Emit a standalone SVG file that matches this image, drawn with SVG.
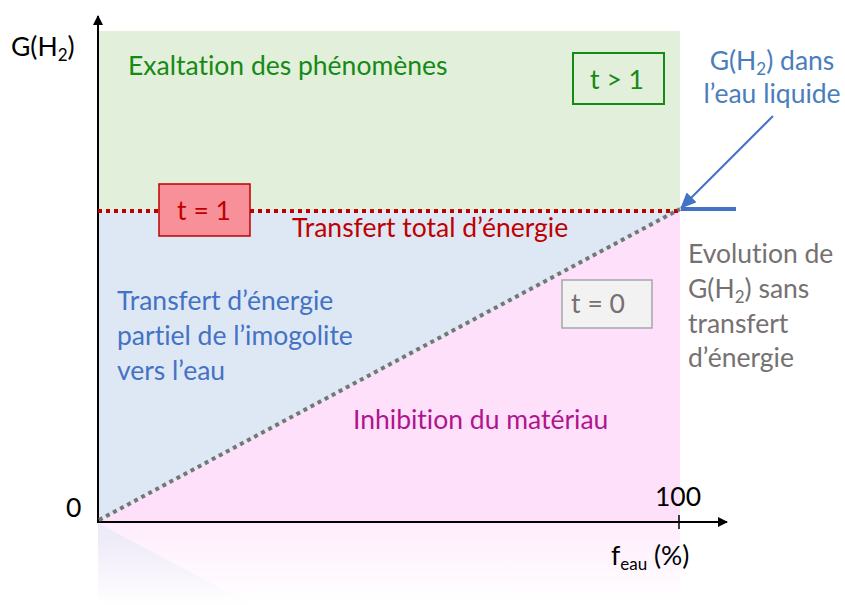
<svg xmlns="http://www.w3.org/2000/svg" width="845" height="605" viewBox="0 0 845 605">
<defs>
<style>
text{font-family:Lato,"Open Sans","Liberation Sans",sans-serif;font-size:26.5px;font-variant-ligatures:none;font-feature-settings:"liga" 0,"clig" 0}
.ax{stroke:#000;stroke-width:2;fill:none}
.lbl{fill:#000}
.sub{font-size:17px}
</style>
<marker id="ah" markerWidth="10" markerHeight="10" refX="9" refY="5" orient="auto" markerUnits="userSpaceOnUse"><path d="M0,0 L10,5 L0,10 Z" fill="#000"/></marker>
<marker id="bh" markerWidth="16" markerHeight="14" refX="15" refY="7" orient="auto" markerUnits="userSpaceOnUse"><path d="M0,0 L16,7 L0,14 Z" fill="#4472c4"/></marker>
<linearGradient id="refl" x1="0" y1="0" x2="0" y2="1"><stop offset="0" stop-color="#ffe0fb" stop-opacity="0.6"/><stop offset="1" stop-color="#ffe0fb" stop-opacity="0"/></linearGradient>
<linearGradient id="reflb" x1="0" y1="0" x2="0" y2="1"><stop offset="0" stop-color="#dde8f4" stop-opacity="0.6"/><stop offset="1" stop-color="#dde8f4" stop-opacity="0"/></linearGradient>
</defs>
<g id="regions">
<rect x="98" y="31" width="582" height="180" fill="#e2efda"/>
<polygon points="98,211 680,211 98,522" fill="#dde8f4"/>
<polygon points="98,522 680,211 680,522" fill="#ffe0fb"/>
<rect x="98" y="523" width="582" height="82" fill="url(#refl)"/>
<polygon points="98,523 252,605 98,605" fill="url(#reflb)"/>
</g>
<g id="connectors">
<line x1="98" y1="522" x2="98" y2="16" class="ax" marker-end="url(#ah)"/>
<line x1="97" y1="522" x2="727" y2="522" class="ax" marker-end="url(#ah)"/>
<line x1="679" y1="515" x2="679" y2="529" stroke="#000" stroke-width="1.5"/>
<line x1="98" y1="211" x2="680" y2="211" stroke="#c00000" stroke-width="4" stroke-dasharray="4,4"/>
<line x1="99" y1="520" x2="680" y2="209" stroke="#767676" stroke-width="4" stroke-dasharray="4,4"/>
<line x1="773" y1="116" x2="681" y2="208" stroke="#4472c4" stroke-width="2" marker-end="url(#bh)"/>
<line x1="681" y1="209" x2="736" y2="209" stroke="#4472c4" stroke-width="4"/>
</g>
<g id="axis-labels">
<text x="11" y="56" class="lbl">G(H<tspan class="sub" dy="5">2</tspan><tspan dy="-5">)</tspan></text>
<text x="66" y="517" class="lbl" font-size="25">0</text>
<text x="655" y="506" class="lbl" font-size="25">100</text>
<text x="611" y="565" class="lbl">f<tspan class="sub" dy="5">eau</tspan><tspan dy="-5"> (%)</tspan></text>
</g>
<g id="exaltation"><text x="128" y="75" fill="#158a15">Exaltation des phénomènes</text></g>
<g id="t-gt-1">
<rect x="573" y="53" width="91" height="51" fill="none" stroke="#158a15" stroke-width="2"/>
<text x="617" y="89" font-size="30" fill="#158a15" text-anchor="middle">t &gt; 1</text>
</g>
<g id="eau-liquide">
<text x="772" y="70" fill="#4a7ebb" text-anchor="middle">G(H<tspan class="sub" dy="5">2</tspan><tspan dy="-5">) dans</tspan></text>
<text x="772" y="103" fill="#4a7ebb" text-anchor="middle">l’eau liquide</text>
</g>
<g id="t-eq-1">
<rect x="159" y="184" width="91" height="52" fill="#f8909a" stroke="#c00000" stroke-width="1.5"/>
<text x="204" y="220" font-size="30" fill="#c00000" text-anchor="middle">t = 1</text>
</g>
<g id="transfert-total"><text x="292" y="237" fill="#c00000">Transfert total d’énergie</text></g>
<g id="transfert-partiel">
<text x="117" y="310" fill="#4472c4">Transfert d’énergie</text>
<text x="117" y="345" fill="#4472c4">partiel de l’imogolite</text>
<text x="117" y="380" fill="#4472c4">vers l’eau</text>
</g>
<g id="t-eq-0">
<rect x="562" y="280" width="90" height="48" fill="#f2f2f2" stroke="#a6a6a6" stroke-width="1.5"/>
<text x="598" y="313" font-size="27" fill="#767171" text-anchor="middle">t = 0</text>
</g>
<g id="evolution">
<text x="688" y="263" fill="#767171">Evolution de</text>
<text x="688" y="298" fill="#767171">G(H<tspan class="sub" dy="5">2</tspan><tspan dy="-5">) sans</tspan></text>
<text x="688" y="333" fill="#767171">transfert</text>
<text x="688" y="367" fill="#767171">d’énergie</text>
</g>
<g id="inhibition"><text x="353" y="429" fill="#b0158e">Inhibition du matériau</text></g>
</svg>
